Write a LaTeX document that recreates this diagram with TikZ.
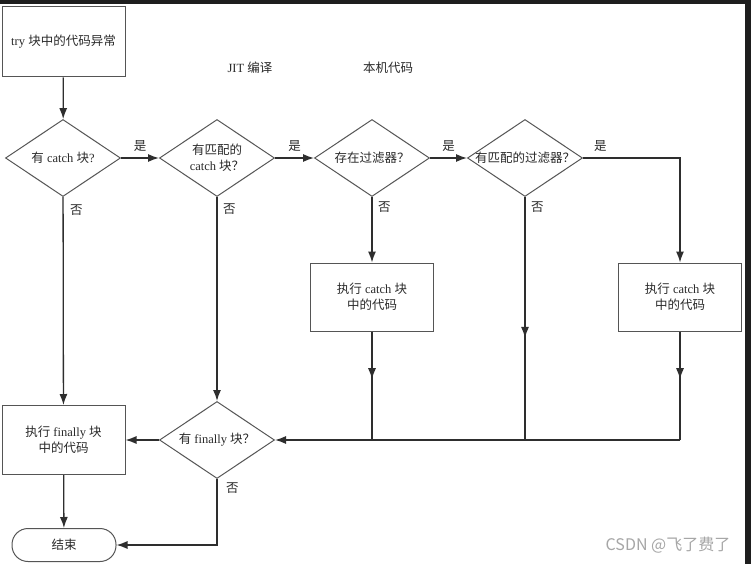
\documentclass[tikz,border=0pt]{standalone}
\usepackage{fontspec}
\setmainfont{Liberation Serif}
\newfontfamily\cjk{Noto Sans CJK SC}
\usetikzlibrary{calc,positioning,shapes.geometric,arrows.meta}
\definecolor{linegray}{HTML}{2E2E2E}
\definecolor{boxgray}{HTML}{555555}
\definecolor{inkgray}{HTML}{2A2A2A}
\definecolor{bandgray}{HTML}{1E1E1E}
\newcommand{\zh}[1]{{\cjk #1}}

\tikzset{
  box/.style={draw=boxgray, line width=1pt, minimum width=123pt, minimum height=69pt, align=center, inner sep=0pt},
  decision/.style={draw=boxgray, diamond, line width=1pt, minimum width=115pt, minimum height=77pt, inner sep=0pt},
  lbl/.style={inner sep=0pt, text=inkgray},
  arr/.style={draw=linegray, line width=1.3pt, -{Latex[length=11pt,width=8pt]}},
  wire/.style={draw=linegray, line width=1.3pt},
}

\begin{document}
\begin{tikzpicture}[x=1pt, y=-1pt, every node/.style={font=\fontsize{12.5}{16}\selectfont, text=inkgray}]
\useasboundingbox (0,0) rectangle (751,564);
\fill[white] (0,0) rectangle (751,564);
% frame of the screenshot
\fill[bandgray] (0,0) rectangle (751,4);
\fill[bandgray] (745,0) rectangle (751,564);

% boxes and decisions
\node[box, minimum height=70pt] (try) at (63.5,42) {try \zh{块中的代码异常}};
\node[decision, label=center:{\zh{有} catch \zh{块}?}] (d1) at (63,158) {};
\node[decision, label={[align=center]center:{\zh{有匹配的}\\catch \zh{块？}}}] (d2) at (217,158) {};
\node[decision, label=center:{\zh{存在过滤器？}}] (d3) at (372,158) {};
\node[decision, label=center:{\zh{有匹配的过滤器？}}] (d4) at (525,158) {};
\node[box, minimum height=68pt] (c1) at (372,297) {\zh{执行} catch \zh{块}\\\zh{中的代码}};
\node[box, minimum height=68pt] (c2) at (680,297) {\zh{执行} catch \zh{块}\\\zh{中的代码}};
\node[box] (fin) at (63.5,440) {\zh{执行} finally \zh{块}\\\zh{中的代码}};
\node[decision, label=center:{\zh{有} finally \zh{块？}}] (dfin) at (217,440) {};
\node[draw=boxgray, line width=1pt, rounded corners=16pt, minimum width=104pt, minimum height=33pt] (end) at (64,545) {\zh{结束}};

% headings and mark
\node[lbl] (jit) at (250,68) {JIT \zh{编译}};
\node[lbl] (native) at (388,68) {\zh{本机代码}};
\node[lbl, text=gray!70, font=\cjk\fontsize{16}{19}\selectfont] (mark) at (668,545) {CSDN @飞了费了};

% yes branches
\draw[arr] (try) -- (d1);
\draw[arr] (d1) -- node[lbl, above=6pt] {\zh{是}} (d2);
\draw[arr] (d2) -- node[lbl, above=6pt] {\zh{是}} (d3);
\draw[arr] (d3) -- node[lbl, above=6pt] {\zh{是}} (d4);
\draw[arr] (d4.east) -| node[lbl, pos=0.09, above=6pt] {\zh{是}} (c2.north);

% no branches
\draw[arr] (d1) -- (fin);
\draw[arr] (d2) -- (dfin);
\draw[arr] (d3) -- (c1);
\node[lbl, below right=8pt and 7pt of d1.south] (no1) {\zh{否}};
\node[lbl, below right=7pt and 6pt of d2.south] (no2) {\zh{否}};
\node[lbl, below right=5pt and 6pt of d3.south] (no3) {\zh{否}};
\node[lbl, below right=5pt and 6pt of d4.south] (no4) {\zh{否}};
\node[lbl, below right=4pt and 9pt of dfin.south] (no5) {\zh{否}};

% joining line into the finally check
\coordinate (j1) at (c1 |- dfin);
\coordinate (j2) at (d4 |- dfin);
\coordinate (j3) at (c2 |- dfin);
\draw[wire] (c1) -- (j1);
\draw[arr] (c1.south) -- ($(c1.south)!0.44!(j1)$);
\draw[wire] (d4) -- (j2);
\draw[arr] (d4.south) -- ($(d4.south)!0.58!(j2)$);
\draw[wire] (c2) -- (j3);
\draw[arr] (c2.south) -- ($(c2.south)!0.44!(j3)$);
\draw[arr] (j3) -- (dfin.east);

% finally and end
\draw[arr] (dfin) -- (fin);
\draw[arr] (fin) -- (end);
\draw[arr] (dfin.south) |- (end.east);
\end{tikzpicture}
\end{document}
